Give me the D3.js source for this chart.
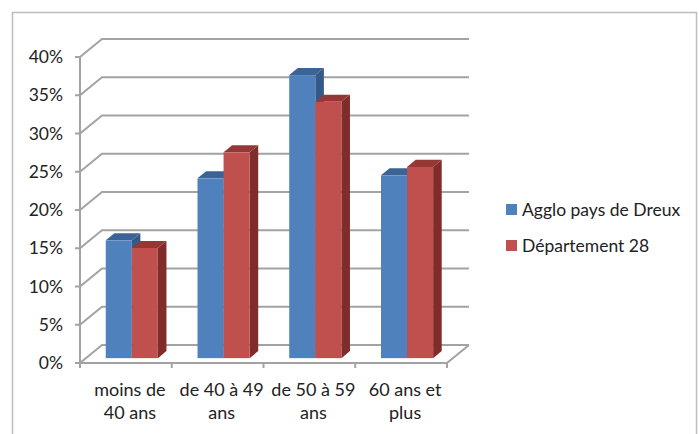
<!DOCTYPE html>
<html>
<head>
<meta charset="utf-8">
<script src="https://cdn.jsdelivr.net/npm/d3@7"></script>
<style>
  body { margin: 0; background: #fff; }
  svg text { font-family: Lato, "Open Sans", sans-serif; fill: #222; }
</style>
</head>
<body>
<svg id="chart" width="699" height="434"></svg>
<script>
  // data
  var categories = [["moins de", "40 ans"], ["de 40 à 49", "ans"], ["de 50 à 59", "ans"], ["60 ans et", "plus"]];
  var series = ["Agglo pays de Dreux", "Département 28"];
  var agglo = [0.154, 0.235, 0.370, 0.239];
  var dept = [0.144, 0.269, 0.335, 0.250];
  var ticks = [0, 0.05, 0.10, 0.15, 0.20, 0.25, 0.30, 0.35, 0.40];

  var colors = [
    { face: "#4f81bd", top: "#3b6396", side: "#345a88" },
    { face: "#c0504d", top: "#953735", side: "#7f2c2a" }
  ];

  var svg = d3.select("#chart");

  // outer frame
  svg.append("rect")
    .attr("x", 12.5).attr("y", 12.5)
    .attr("width", 684).attr("height", 440)
    .attr("fill", "none").attr("stroke", "#bdbdbd").attr("stroke-width", 1.5);

  var left = 80, right = 447;
  var depthX = 22, depthY = -18;  // 3d depth of the floor

  var y = d3.scaleLinear().domain([0, 0.4]).range([363, 57]);
  var x = d3.scaleBand().domain(d3.range(categories.length)).range([left, right]);
  var xs = d3.scaleBand().domain(d3.range(series.length)).range([0, x.bandwidth()]).paddingOuter(0.76);

  var grid = svg.append("g").attr("stroke", "#a3a3a3").attr("stroke-width", 2).attr("fill", "none");

  // back wall gridlines + left wall diagonals
  ticks.forEach(function(t) {
    grid.append("path").attr("d",
      "M" + left + "," + y(t) +
      "L" + (left + depthX) + "," + (y(t) + depthY) +
      "L" + (right + depthX) + "," + (y(t) + depthY));
  });

  // floor
  grid.append("path").attr("d",
    "M" + left + "," + y(0) + "L" + right + "," + y(0) +
    "L" + (right + depthX) + "," + (y(0) + depthY));

  // vertical axis + ticks
  grid.append("line").attr("x1", left).attr("x2", left).attr("y1", y(0.4)).attr("y2", y(0));
  ticks.forEach(function(t) {
    grid.append("line").attr("x1", left - 5).attr("x2", left).attr("y1", y(t)).attr("y2", y(t));
  });
  d3.range(categories.length + 1).forEach(function(i) {
    var xx = left + i * x.step();
    grid.append("line").attr("x1", xx).attr("x2", xx).attr("y1", y(0)).attr("y2", y(0) + 5);
  });

  svg.append("g").selectAll("text").data(ticks).enter().append("text")
    .attr("x", 63).attr("y", function(d) { return y(d); })
    .attr("dy", "0.35em")
    .attr("text-anchor", "end")
    .style("font-size", "17.5px")
    .text(function(d) { return Math.round(d * 100) + "%"; });

  // bars: sit inside the floor between depth fractions d0 and d1
  var d0 = 0.27, d1 = 0.66;
  var bars = svg.append("g");
  var values = [agglo, dept];

  categories.forEach(function(c, i) {
    values.forEach(function(vals, s) {
      var v = vals[i];
      var x0 = x(i) + xs(s) + d0 * depthX;
      var w = xs.bandwidth();
      var yb = y(0) + d0 * depthY;
      var yt = y(v) + d0 * depthY;
      var dx = (d1 - d0) * depthX, dy = (d1 - d0) * depthY;
      var col = colors[s];
      // side
      bars.append("path").attr("fill", col.side).attr("d",
        "M" + (x0 + w) + "," + yt + "L" + (x0 + w + dx) + "," + (yt + dy) +
        "L" + (x0 + w + dx) + "," + (yb + dy) + "L" + (x0 + w) + "," + yb + "Z");
      // top
      bars.append("path").attr("fill", col.top).attr("d",
        "M" + x0 + "," + yt + "L" + (x0 + dx) + "," + (yt + dy) +
        "L" + (x0 + w + dx) + "," + (yt + dy) + "L" + (x0 + w) + "," + yt + "Z");
      // face
      bars.append("rect").attr("fill", col.face)
        .attr("x", x0).attr("y", yt).attr("width", w).attr("height", yb - yt);
    });
  });

  // category labels
  var cx = function(d, i) { return x(i) + x.bandwidth() / 2 + 4; };
  var lab = svg.append("g").selectAll("text").data(categories).enter().append("text")
    .attr("text-anchor", "middle")
    .style("font-size", "18px")
    .attr("x", cx)
    .attr("y", 396);
  lab.append("tspan").text(function(d) { return d[0]; });
  lab.append("tspan").attr("x", cx).attr("dy", 23).text(function(d) { return d[1]; });

  // legend
  var legend = svg.append("g").selectAll("g").data(series).enter().append("g")
    .attr("transform", function(d, i) { return "translate(506," + (204 + i * 36) + ")"; });
  legend.append("rect").attr("width", 11).attr("height", 11)
    .attr("fill", function(d, i) { return colors[i].face; });
  legend.append("text").attr("x", 16).attr("y", 6).attr("dy", "0.35em")
    .style("font-size", "17.5px")
    .text(function(d) { return d; });
</script>
</body>
</html>
